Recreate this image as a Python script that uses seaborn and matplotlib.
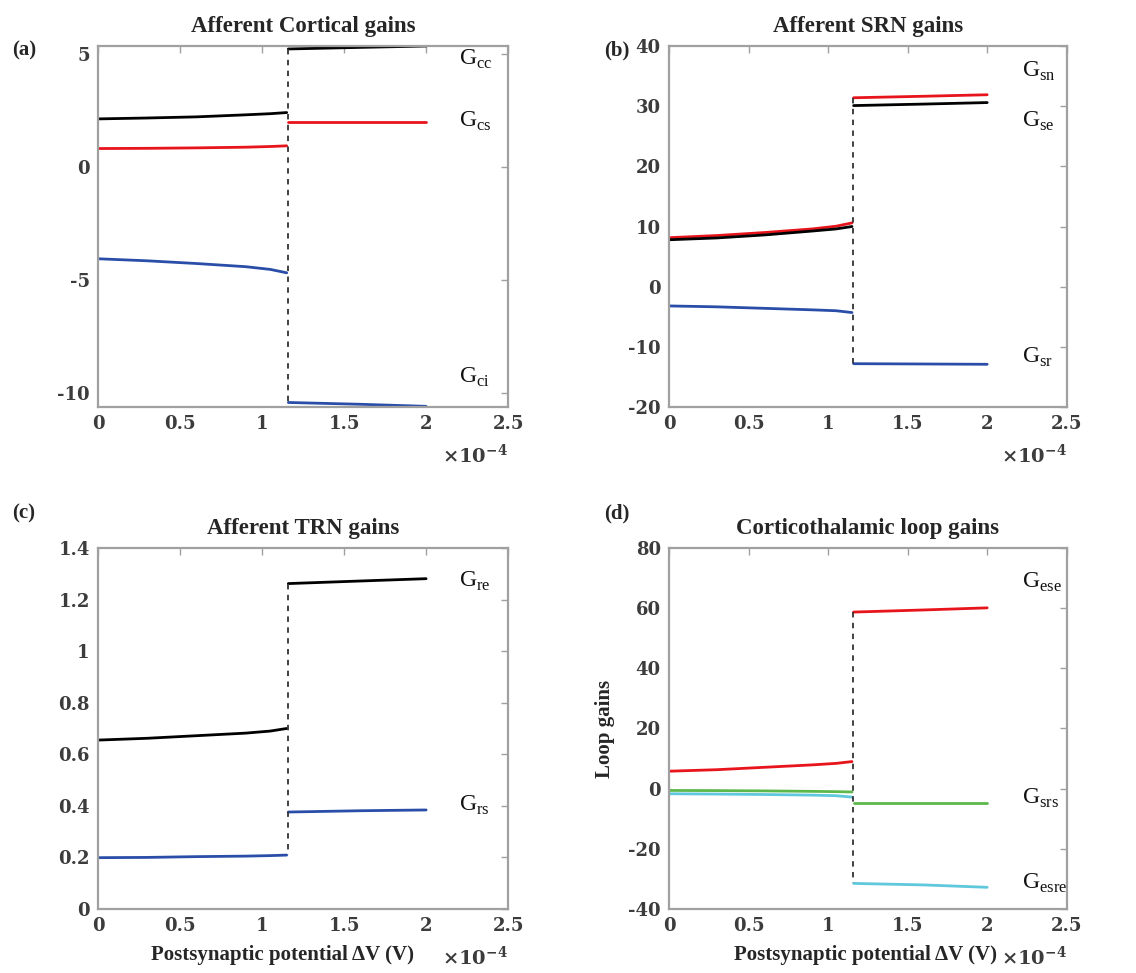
import matplotlib
matplotlib.use('Agg')
import matplotlib.pyplot as plt
import seaborn as sns
import pandas as pd

# x positions (V) before and after the jump
x_pre = [0.0, 0.3e-4, 0.6e-4, 0.9e-4, 1.05e-4, 1.15e-4]
x_post = [1.16e-4, 1.6e-4, 2.0e-4]
x_jump = 1.155e-4

# (a) afferent cortical gains
gcc_pre = [2.13, 2.17, 2.22, 2.31, 2.36, 2.41]
gcc_post = [5.22, 5.29, 5.35]
gcs_pre = [0.82, 0.83, 0.85, 0.88, 0.91, 0.94]
gcs_post = [2.0, 2.0, 2.0]
gci_pre = [-4.05, -4.14, -4.26, -4.4, -4.52, -4.67]
gci_post = [-10.4, -10.48, -10.57]

# (b) afferent SRN gains
gsn_pre = [8.14, 8.5, 9.0, 9.6, 10.05, 10.6]
gsn_post = [31.4, 31.65, 31.9]
gse_pre = [7.8, 8.1, 8.6, 9.25, 9.6, 10.0]
gse_post = [30.1, 30.35, 30.6]
gsr_pre = [-3.2, -3.35, -3.6, -3.85, -4.0, -4.3]
gsr_post = [-12.8, -12.85, -12.9]

# (c) afferent TRN gains
gre_pre = [0.655, 0.662, 0.672, 0.682, 0.69, 0.70]
gre_post = [1.262, 1.272, 1.281]
grs_pre = [0.199, 0.200, 0.203, 0.205, 0.207, 0.209]
grs_post = [0.376, 0.381, 0.384]

# (d) corticothalamic loop gains
gese_pre = [5.8, 6.3, 7.1, 7.9, 8.4, 9.0]
gese_post = [58.7, 59.4, 60.1]
gsrs_pre = [-0.6, -0.65, -0.75, -0.9, -1.0, -1.1]
gsrs_post = [-4.8, -4.8, -4.8]
gesre_pre = [-1.7, -1.8, -1.95, -2.15, -2.35, -2.8]
gesre_post = [-31.5, -32.0, -32.8]

x_ticks = [0, 0.5e-4, 1e-4, 1.5e-4, 2e-4, 2.5e-4]
x_ticklabels = ['0', '0.5', '1', '1.5', '2', '2.5']

BLACK = '#000000'
RED = '#e8141c'
BLUE = '#2a4ea8'
GREEN = '#5cb84a'
CYAN = '#5fc8dc'

panels = [
    dict(tag='(a)', title='Afferent Cortical gains', ylim=(-10.6, 5.35),
         yticks=[-10, -5, 0, 5], labx=2.2e-4,
         series=[('cc', gcc_pre, gcc_post, BLACK, 4.75),
                 ('cs', gcs_pre, gcs_post, RED, 2.0),
                 ('ci', gci_pre, gci_post, BLUE, -9.3)],
         jump=(5.22, -10.4)),
    dict(tag='(b)', title='Afferent SRN gains', ylim=(-20, 40),
         yticks=[-20, -10, 0, 10, 20, 30, 40], labx=2.22e-4,
         series=[('sn', gsn_pre, gsn_post, RED, 35.7),
                 ('se', gse_pre, gse_post, BLACK, 27.4),
                 ('sr', gsr_pre, gsr_post, BLUE, -11.7)],
         jump=(31.4, -12.8)),
    dict(tag='(c)', title='Afferent TRN gains', ylim=(0, 1.4),
         yticks=[0, 0.2, 0.4, 0.6, 0.8, 1.0, 1.2, 1.4], labx=2.2e-4,
         series=[('re', gre_pre, gre_post, BLACK, 1.27),
                 ('rs', grs_pre, grs_post, BLUE, 0.40)],
         jump=(1.262, 0.209)),
    dict(tag='(d)', title='Corticothalamic loop gains', ylim=(-40, 80),
         yticks=[-40, -20, 0, 20, 40, 60, 80], labx=2.22e-4,
         series=[('ese', gese_pre, gese_post, RED, 68.4),
                 ('srs', gsrs_pre, gsrs_post, GREEN, -3.2),
                 ('esre', gesre_pre, gesre_post, CYAN, -31.4)],
         jump=(58.7, -31.5)),
]

sns.set_style('white')
plt.rcParams['font.family'] = ['Liberation Serif', 'DejaVu Serif']
plt.rcParams['mathtext.fontset'] = 'custom'
plt.rcParams['mathtext.rm'] = 'Liberation Serif'
plt.rcParams['mathtext.bf'] = 'DejaVu Serif:bold'
plt.rcParams['axes.unicode_minus'] = False

fig = plt.figure(figsize=(11.36, 9.73), dpi=100)
rects = [[0.0863, 0.5817, 0.361, 0.371],
         [0.589, 0.5817, 0.350, 0.371],
         [0.0863, 0.0658, 0.361, 0.371],
         [0.589, 0.0658, 0.350, 0.371]]
tag_pos = [(0.021, 0.948), (0.543, 0.948), (0.021, 0.472), (0.543, 0.472)]

SPINE = '#a0a0a0'
TICKTXT = '#3c3c3c'
tick_font = dict(fontfamily='DejaVu Serif', fontweight='bold', fontsize=13, color=TICKTXT)

for i, p in enumerate(panels):
    ax = fig.add_axes(rects[i])
    for name, pre, post, col, laby in p['series']:
        for xs, ys in ((x_pre, pre), (x_post, post)):
            df = pd.DataFrame({'x': xs, 'y': ys})
            sns.lineplot(data=df, x='x', y='y', color=col, linewidth=2,
                         estimator=None, ax=ax)
        ax.text(p['labx'], laby, r'G$_{\mathrm{%s}}$' % name, fontsize=17,
                va='center', ha='left', color='#111111')
    ax.plot([x_jump, x_jump], p['jump'], ls=(0, (3, 3)), color='#333333', lw=1.3)

    ax.set_xlim(0, 2.5e-4)
    ax.set_ylim(*p['ylim'])
    ax.set_xticks(x_ticks, x_ticklabels, **tick_font)
    ax.set_yticks(p['yticks'], [f'{v:g}' for v in p['yticks']], **tick_font)
    ax.tick_params(direction='in', length=5, width=1, color=SPINE,
                   top=True, right=True, pad=6)
    for s in ax.spines.values():
        s.set_visible(True)
        s.set_color(SPINE)
        s.set_linewidth(1.6)
    ax.set_xlabel('')
    ax.set_ylabel('')
    ax.set_title(p['title'], fontsize=16.5, fontweight='bold', pad=10)
    ax.text(1.0, -0.133, '×10$^{\\mathbf{-4}}$', transform=ax.transAxes,
            ha='right', va='center', fontsize=14, fontfamily='DejaVu Serif',
            fontweight='bold', color=TICKTXT)
    fig.text(tag_pos[i][0], tag_pos[i][1], p['tag'], fontsize=15, fontweight='bold',
             ha='center', va='center')
    if i >= 2:
        ax.set_xlabel('Postsynaptic potential ΔV (V)', fontsize=15, fontweight='bold')
        ax.xaxis.set_label_coords(0.45 if i == 2 else 0.495, -0.1)
    if i == 3:
        ax.set_ylabel('Loop gains', fontsize=15, fontweight='bold')
        ax.yaxis.set_label_coords(-0.135, 0.5)

plt.savefig('out.png', dpi=100)
